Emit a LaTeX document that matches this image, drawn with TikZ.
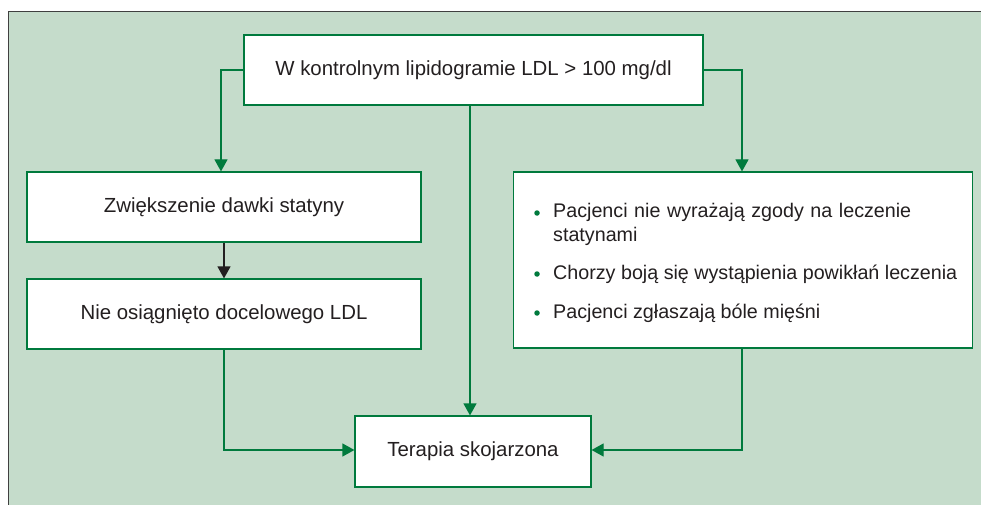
\documentclass[tikz,border=0pt]{standalone}
\usepackage{fontspec}
\setmainfont{Liberation Sans}
\usetikzlibrary{arrows.meta}
\definecolor{bgpanel}{HTML}{C5DCCB}
\definecolor{gline}{HTML}{007A3D}
\definecolor{txt}{HTML}{231F20}
\begin{document}
\begin{tikzpicture}[x=1pt,y=-1pt,
  box/.style={draw=gline,line width=1.2pt,fill=white,minimum height=70pt,inner sep=0pt,font=\fontsize{20.4}{24}\selectfont,text=txt},
  conn/.style={draw=gline,line width=1.2pt,-{Triangle[width=13pt,length=12pt]}},
  bul/.style={fill=gline,circle,inner sep=0pt,minimum size=5.5pt}]
\useasboundingbox (0,0) rectangle (981,505);
\fill[bgpanel] (8.5,11.5) rectangle (981,505);
\draw[line width=1.3pt,draw=black!75] (8.5,505) -- (8.5,11.5) -- (981,11.5);
\node[box,minimum width=459pt] (top) at (473.5,70) {W kontrolnym lipidogramie LDL > 100 mg/dl};
\node[box,minimum width=394pt] (zw) at (224,207) {Zwiększenie dawki statyny};
\node[box,minimum width=394pt] (nie) at (224,314) {Nie osiągnięto docelowego LDL};
\node[box,minimum width=459pt,minimum height=176pt] (rb) at (743,260) {};
\node[box,minimum width=236pt,minimum height=71pt] (ter) at (473,451.5) {Terapia skojarzona};
\coordinate (tl) at (221,70);
\coordinate (tr) at (742,70);
\coordinate (bl) at (224,450);
\coordinate (br) at (742,450);
\begin{scope}[font=\fontsize{19.7}{24}\selectfont,txt]
\node[bul] (b1) at (537,213) {};
\node[anchor=west,align=left,text width=400pt,inner sep=0pt] (t1) at (553,224) {Pacjenci nie wyrażają zgody na leczenie\\statynami};
\node[bul] (b2) at (537,274) {};
\node[anchor=west,inner sep=0pt] (t2) at (553,274) {Chorzy boją się wystąpienia powikłań leczenia};
\node[bul] (b3) at (537,313) {};
\node[anchor=west,inner sep=0pt] (t3) at (553,313) {Pacjenci zgłaszają bóle mięśni};
\end{scope}
\draw[conn] (top.west) -- (tl) -- (tl |- zw.north);
\draw[conn] (top.east) -- (tr) -- (tr |- rb.north);
\draw[conn] (top.south -| 470,0) -- (ter.north -| 470,0);
\draw[line width=1.2pt,draw=txt,-{Triangle[width=13pt,length=12pt]}] (zw.south) -- (nie.north);
\draw[conn] (nie.south) -- (bl) -- (ter.west |- bl);
\draw[conn] (rb.south -| br) -- (br) -- (ter.east |- br);
\end{tikzpicture}
\end{document}
